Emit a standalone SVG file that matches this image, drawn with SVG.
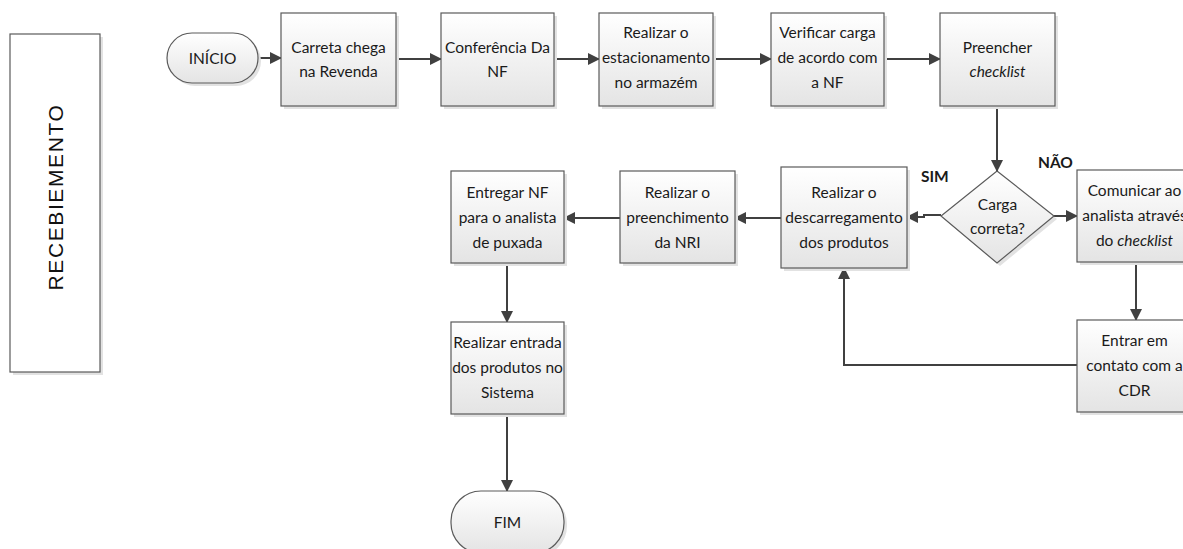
<svg xmlns="http://www.w3.org/2000/svg" width="1183" height="549" viewBox="0 0 1183 549">
<defs>
<linearGradient id="g" x1="0" y1="0" x2="0" y2="1">
<stop offset="0" stop-color="#ffffff"/>
<stop offset="1" stop-color="#e4e4e4"/>
</linearGradient>
<marker id="ah" viewBox="0 0 12 12" refX="11" refY="6" markerWidth="12" markerHeight="12" markerUnits="userSpaceOnUse" orient="auto">
<path d="M0,0 L12,6 L0,12 z" fill="#404040"/>
</marker>
</defs>
<style>
.box{fill:url(#g);stroke:#5a5a5a;stroke-width:1.2}
.sh{fill:#e2e2e2;stroke:none}
.t{font-family:Lato,"Open Sans",sans-serif;font-size:15.5px;fill:#1a1a1a;text-anchor:middle}
.i{font-style:italic}
.b{font-family:Lato,"Open Sans",sans-serif;font-size:15.5px;font-weight:bold;fill:#1a1a1a}
.c{fill:none;stroke:#404040;stroke-width:2}
.lane{fill:#ffffff;stroke:#5a5a5a;stroke-width:1.2}
.lt{font-family:"Liberation Sans",Arial,sans-serif;font-size:21px;fill:#111;text-anchor:middle;letter-spacing:1.6px}
</style>
<rect width="1183" height="549" fill="#ffffff"/>

<g id="lane">
<rect class="sh" x="13" y="37" width="90" height="338"/>
<rect class="lane" x="10" y="34" width="90" height="338"/>
<text class="lt" transform="translate(62.5,197) rotate(-90)">RECEBIEMENTO</text>
</g>

<g id="connectors">
<line class="c" x1="258" y1="58" x2="281" y2="58" marker-end="url(#ah)"/>
<line class="c" x1="396" y1="59" x2="441" y2="59" marker-end="url(#ah)"/>
<line class="c" x1="554" y1="59" x2="599" y2="59" marker-end="url(#ah)"/>
<line class="c" x1="713" y1="59" x2="771" y2="59" marker-end="url(#ah)"/>
<line class="c" x1="884" y1="59" x2="940" y2="59" marker-end="url(#ah)"/>
<line class="c" x1="997" y1="106" x2="997" y2="171" marker-end="url(#ah)"/>
<polyline class="c" points="941,215 924,215 924,217 907,217" marker-end="url(#ah)"/>
<line class="c" x1="1054" y1="216" x2="1077" y2="216" marker-end="url(#ah)"/>
<line class="c" x1="781" y1="218" x2="735" y2="218" marker-end="url(#ah)"/>
<line class="c" x1="620" y1="218" x2="564" y2="218" marker-end="url(#ah)"/>
<line class="c" x1="507" y1="263" x2="507" y2="322" marker-end="url(#ah)"/>
<line class="c" x1="507" y1="414" x2="507" y2="491" marker-end="url(#ah)"/>
<line class="c" x1="1136" y1="262" x2="1136" y2="320" marker-end="url(#ah)"/>
<polyline class="c" points="1077,365 844,365 844,268" marker-end="url(#ah)"/>
</g>

<g id="inicio">
<rect class="sh" x="170" y="36" width="91" height="50" rx="25"/>
<rect class="box" x="167" y="33" width="91" height="50" rx="25"/>
<text class="t" x="212.5" y="63.5">INÍCIO</text>
</g>

<g id="carreta">
<rect class="sh" x="284" y="16" width="115" height="93"/>
<rect class="box" x="281" y="13" width="115" height="93"/>
<text class="t" x="338.5" y="53">Carreta chega</text>
<text class="t" x="338.5" y="77">na Revenda</text>
</g>

<g id="conferencia">
<rect class="sh" x="444" y="16" width="113" height="93"/>
<rect class="box" x="441" y="13" width="113" height="93"/>
<text class="t" x="497.5" y="53">Conferência Da</text>
<text class="t" x="497.5" y="77">NF</text>
</g>

<g id="estacionamento">
<rect class="sh" x="602" y="16" width="114" height="93"/>
<rect class="box" x="599" y="13" width="114" height="93"/>
<text class="t" x="656" y="38">Realizar o</text>
<text class="t" x="656" y="63">estacionamento</text>
<text class="t" x="656" y="88">no armazém</text>
</g>

<g id="verificar">
<rect class="sh" x="774" y="16" width="113" height="93"/>
<rect class="box" x="771" y="13" width="113" height="93"/>
<text class="t" x="827.5" y="38">Verificar carga</text>
<text class="t" x="827.5" y="63">de acordo com</text>
<text class="t" x="827.5" y="88">a NF</text>
</g>

<g id="preencher">
<rect class="sh" x="943" y="16" width="115" height="93"/>
<rect class="box" x="940" y="13" width="115" height="93"/>
<text class="t" x="997.5" y="53">Preencher</text>
<text class="t i" x="997.5" y="77">checklist</text>
</g>

<g id="decisao">
<polygon class="sh" points="1000,174 1057,219 1000,266 944,219"/>
<polygon class="box" points="997,171 1054,216 997,263 941,216"/>
<text class="t" x="997.5" y="210">Carga</text>
<text class="t" x="997.5" y="234">correta?</text>
</g>

<g id="labels">
<text class="b" x="921" y="182">SIM</text>
<text class="b" x="1038" y="168">NÃO</text>
</g>

<g id="descarregamento">
<rect class="sh" x="784" y="170" width="126" height="101"/>
<rect class="box" x="781" y="167" width="126" height="101"/>
<text class="t" x="844" y="198">Realizar o</text>
<text class="t" x="844" y="223">descarregamento</text>
<text class="t" x="844" y="248">dos produtos</text>
</g>

<g id="comunicar">
<rect class="sh" x="1080" y="173" width="115" height="92"/>
<rect class="box" x="1077" y="170" width="115" height="92"/>
<text class="t" x="1134.5" y="196">Comunicar ao</text>
<text class="t" x="1134.5" y="221">analista através</text>
<text class="t" x="1134.5" y="246">do <tspan class="i">checklist</tspan></text>
</g>

<g id="entrar">
<rect class="sh" x="1080" y="323" width="115" height="92"/>
<rect class="box" x="1077" y="320" width="115" height="92"/>
<text class="t" x="1134.5" y="346">Entrar em</text>
<text class="t" x="1134.5" y="371">contato com a</text>
<text class="t" x="1134.5" y="396">CDR</text>
</g>

<g id="preenchimento">
<rect class="sh" x="623" y="174" width="115" height="92"/>
<rect class="box" x="620" y="171" width="115" height="92"/>
<text class="t" x="677.5" y="198">Realizar o</text>
<text class="t" x="677.5" y="223">preenchimento</text>
<text class="t" x="677.5" y="248">da NRI</text>
</g>

<g id="entregar">
<rect class="sh" x="454" y="174" width="113" height="92"/>
<rect class="box" x="451" y="171" width="113" height="92"/>
<text class="t" x="507.5" y="198">Entregar NF</text>
<text class="t" x="507.5" y="223">para o analista</text>
<text class="t" x="507.5" y="248">de puxada</text>
</g>

<g id="entrada">
<rect class="sh" x="454" y="325" width="113" height="92"/>
<rect class="box" x="451" y="322" width="113" height="92"/>
<text class="t" x="507.5" y="348">Realizar entrada</text>
<text class="t" x="507.5" y="373">dos produtos no</text>
<text class="t" x="507.5" y="398">Sistema</text>
</g>

<g id="fim">
<rect class="sh" x="454" y="494" width="113" height="62" rx="30"/>
<rect class="box" x="451" y="491" width="113" height="62" rx="30"/>
<text class="t" x="507.5" y="528">FIM</text>
</g>
</svg>
